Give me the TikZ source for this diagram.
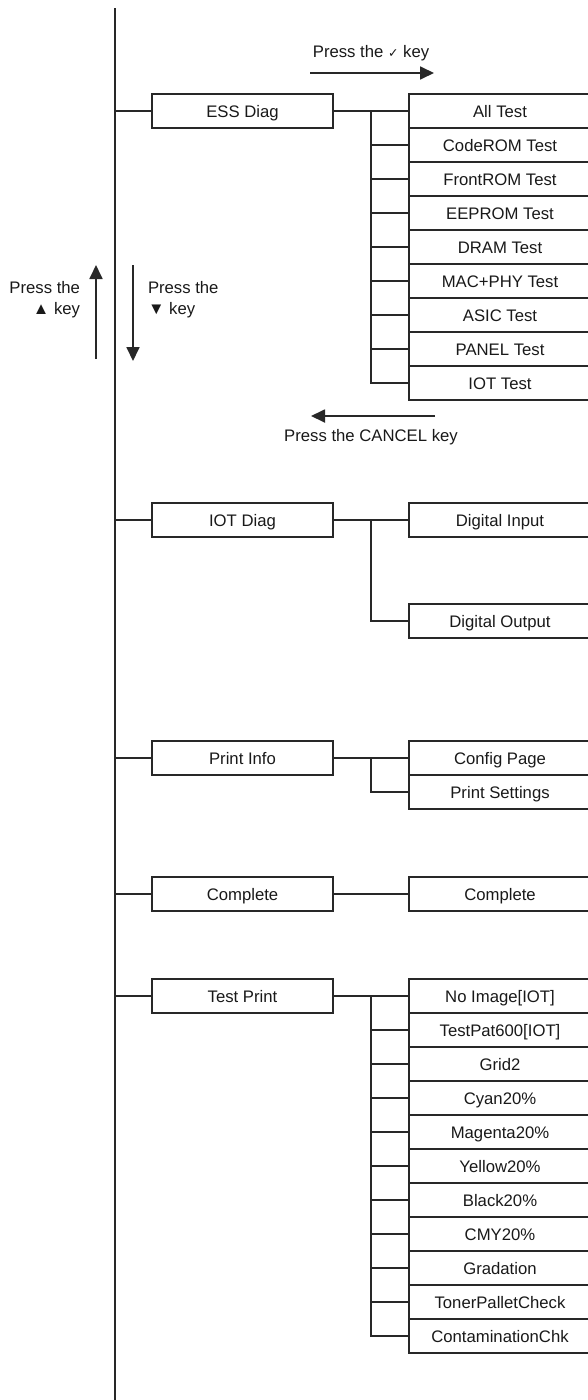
\documentclass[tikz,border=0pt]{standalone}
\usepackage{fontspec}
\setmainfont{Liberation Sans}
\newfontfamily\symfont{DejaVu Sans}
\usetikzlibrary{arrows.meta,positioning,calc}
\newcommand{\menufont}{\fontsize{16.7}{21}\selectfont}
\newcommand{\okmark}{{\symfont\fontsize{12.5}{12.5}\selectfont ✓}}
\definecolor{lineGray}{RGB}{40,40,40}
\tikzset{
  menubox/.style={rectangle,draw=lineGray,line width=1.8pt,minimum width=181pt,minimum height=34pt,
                  inner sep=0pt,outer sep=0pt,text height=12pt,text depth=0pt,font=\menufont,text=black!90},
  itembox/.style={menubox,minimum width=182pt},
  link/.style={draw=lineGray,line width=1.8pt},
  keyarr/.style={-{Triangle[length=14pt,width=13pt]},draw=lineGray,line width=1.8pt},
  keytext/.style={inner sep=0pt,outer sep=0pt,font=\menufont,text=black!90}
}

\begin{document}
\begin{tikzpicture}[x=1pt,y=-1pt,node distance=0pt]
  \useasboundingbox (0,0) rectangle (587,1400);

  % main menu column
  \coordinate (top) at (115,8);
  \coordinate (bot) at (115,1400);
  \node[menubox] (ess)  at (242.5,111) {ESS Diag};
  \node[menubox] (iotd) at (242.5,520) {IOT Diag};
  \node[menubox] (info) at (242.5,758) {Print Info};
  \node[menubox] (comp) at (242.5,894) {Complete};
  \node[menubox] (test) at (242.5,996) {Test Print};

  % ESS Diag items
  \node[itembox] (all) at (500,111) {All Test};
  \node[itembox,below=of all]   (code)  {CodeROM Test};
  \node[itembox,below=of code]  (front) {FrontROM Test};
  \node[itembox,below=of front] (eep)   {EEPROM Test};
  \node[itembox,below=of eep]   (dram)  {DRAM Test};
  \node[itembox,below=of dram]  (mac)   {MAC+PHY Test};
  \node[itembox,below=of mac]   (asic)  {ASIC Test};
  \node[itembox,below=of asic]  (panel) {PANEL Test};
  \node[itembox,below=of panel] (iott)  {IOT Test};

  % IOT Diag items
  \node[itembox] (din)  at (500,520) {Digital Input};
  \node[itembox] (dout) at (500,621) {Digital Output};

  % Print Info items
  \node[itembox] (cfg) at (500,758) {Config Page};
  \node[itembox,below=of cfg] (pset) {Print Settings};

  % Complete item
  \node[itembox] (compl) at (500,894) {Complete};

  % Test Print items
  \node[itembox] (noimg) at (500,996) {No Image[IOT]};
  \node[itembox,below=of noimg]   (tpat)    {TestPat600[IOT]};
  \node[itembox,below=of tpat]    (grid)    {Grid2};
  \node[itembox,below=of grid]    (cyan)    {Cyan20\%};
  \node[itembox,below=of cyan]    (magenta) {Magenta20\%};
  \node[itembox,below=of magenta] (yellow)  {Yellow20\%};
  \node[itembox,below=of yellow]  (black)   {Black20\%};
  \node[itembox,below=of black]   (cmy)     {CMY20\%};
  \node[itembox,below=of cmy]     (grad)    {Gradation};
  \node[itembox,below=of grad]    (toner)   {TonerPalletCheck};
  \node[itembox,below=of toner]   (contam)  {ContaminationChk};

  % buses
  \coordinate (essbus)  at ($(ess.east)!0.5!(all.west)$);
  \coordinate (iotbus)  at ($(iotd.east)!0.5!(din.west)$);
  \coordinate (infobus) at ($(info.east)!0.5!(cfg.west)$);
  \coordinate (testbus) at ($(test.east)!0.5!(noimg.west)$);

  \draw[link] (top) -- (bot);
  \draw[link] (top |- ess.west) -- (ess.west) (top |- iotd.west) -- (iotd.west)
              (top |- info.west) -- (info.west) (top |- comp.west) -- (comp.west)
              (top |- test.west) -- (test.west);

  \draw[link] (ess.east) -- (all.west) (essbus) |- (iott.west)
              (essbus |- code.west) -- (code.west) (essbus |- front.west) -- (front.west)
              (essbus |- eep.west) -- (eep.west) (essbus |- dram.west) -- (dram.west)
              (essbus |- mac.west) -- (mac.west) (essbus |- asic.west) -- (asic.west)
              (essbus |- panel.west) -- (panel.west);
  \draw[link] (iotd.east) -- (din.west) (iotbus) |- (dout.west);
  \draw[link] (info.east) -- (cfg.west) (infobus) |- (pset.west);
  \draw[link] (comp.east) -- (compl.west);
  \draw[link] (test.east) -- (noimg.west) (testbus) |- (contam.west)
              (testbus |- tpat.west) -- (tpat.west) (testbus |- grid.west) -- (grid.west)
              (testbus |- cyan.west) -- (cyan.west) (testbus |- magenta.west) -- (magenta.west)
              (testbus |- yellow.west) -- (yellow.west) (testbus |- black.west) -- (black.west)
              (testbus |- cmy.west) -- (cmy.west) (testbus |- grad.west) -- (grad.west)
              (testbus |- toner.west) -- (toner.west);

  % key hints
  \coordinate (okA) at (310,73);
  \coordinate (okB) at (434,73);
  \node[keytext,anchor=base] (oklbl) at (371,57) {Press the \okmark{} key};
  \draw[keyarr] (okA) -- (okB);

  \coordinate (canA) at (435,416);
  \coordinate (canB) at (311,416);
  \node[keytext,anchor=base] (canlbl) at (371,441) {Press the CANCEL key};
  \draw[keyarr] (canA) -- (canB);

  \coordinate (upA) at (96,359);
  \coordinate (upB) at (96,265);
  \node[keytext,align=right,anchor=north east] (uplbl) at (80,281) {Press the\\▲ key};
  \draw[keyarr] (upA) -- (upB);

  \coordinate (dnA) at (133,265);
  \coordinate (dnB) at (133,361);
  \node[keytext,align=left,anchor=north west] (dnlbl) at (148,281) {Press the\\▼ key};
  \draw[keyarr] (dnA) -- (dnB);
\end{tikzpicture}
\end{document}
